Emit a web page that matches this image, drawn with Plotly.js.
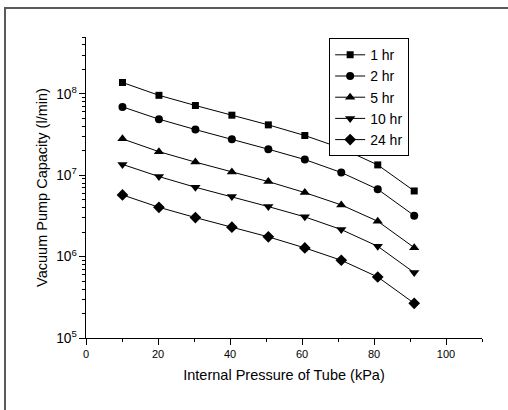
<!DOCTYPE html>
<html>
<head>
<meta charset="utf-8">
<script src="https://cdn.plot.ly/plotly-3.0.1.min.js"></script>
<style>
html,body{margin:0;padding:0;background:#fff;}
#wrap{position:relative;width:508px;height:410px;overflow:hidden;}
#chart{position:absolute;left:0;top:0;width:508px;height:410px;}
#frame{position:absolute;left:4px;top:7px;width:520px;height:420px;border-left:2px solid #5a5a5a;border-top:2px solid #5a5a5a;pointer-events:none;}
</style>
</head>
<body>
<div id="wrap"><div id="chart"></div><div id="frame"></div></div>
<script>
// Internal pressure of tube (kPa)
const pressure = [10.13, 20.26, 30.39, 40.52, 50.65, 60.78, 70.91, 81.04, 91.17];
const seriesNames = ["1 hr", "2 hr", "5 hr", "10 hr", "24 hr"];
const cap1hr  = [1.38e8, 9.6e7, 7.2e7, 5.47e7, 4.16e7, 3.08e7, 2.15e7, 1.34e7, 6.41e6];
const cap2hr  = [6.92e7, 4.89e7, 3.64e7, 2.77e7, 2.09e7, 1.56e7, 1.08e7, 6.73e6, 3.19e6];
const cap5hr  = [2.80e7, 1.95e7, 1.45e7, 1.10e7, 8.36e6, 6.12e6, 4.32e6, 2.72e6, 1.29e6];
const cap10hr = [1.36e7, 9.64e6, 7.12e6, 5.47e6, 4.12e6, 3.08e6, 2.15e6, 1.34e6, 6.36e5];
const cap24hr = [5.73e6, 4.04e6, 3.02e6, 2.30e6, 1.75e6, 1.28e6, 9.02e5, 5.62e5, 2.67e5];
const xTickVals = [0, 20, 40, 60, 80, 100];

const allY = [cap1hr, cap2hr, cap5hr, cap10hr, cap24hr];
const symbols = ["square", "circle", "triangle-up", "triangle-down", "diamond"];
const sizes = [7, 8, 9, 9, 9];

const traces = allY.map((ys, i) => ({
  x: pressure,
  y: ys,
  name: seriesNames[i],
  type: "scatter",
  mode: "lines+markers",
  line: {color: "#000", width: 1},
  marker: {symbol: symbols[i], size: sizes[i], color: "#000"}
}));

const font = {family: "Liberation Sans, Arial, sans-serif", color: "#000"};

const layout = {
  width: 508,
  height: 410,
  margin: {l: 86, r: 26, t: 37, b: 72},
  paper_bgcolor: "#fff",
  plot_bgcolor: "#fff",
  font: Object.assign({size: 11}, font),
  showlegend: true,
  legend: {
    x: 0.614, y: 0.996, xanchor: "left", yanchor: "top",
    bordercolor: "#000", borderwidth: 1, bgcolor: "#fff",
    font: Object.assign({size: 14}, font),
    tracegroupgap: 0
  },
  xaxis: {
    range: [0, 110],
    tickvals: xTickVals,
    ticks: "outside", ticklen: 6, tickwidth: 1, tickcolor: "#000",
    minor: {tickvals: [10, 30, 50, 70, 90, 110], ticks: "outside", ticklen: 3, tickcolor: "#000", showgrid: false},
    showline: true, linecolor: "#000", linewidth: 1, mirror: false,
    showgrid: false, zeroline: false,
    tickfont: Object.assign({size: 11}, font),
    title: {text: "Internal Pressure of Tube (kPa)", font: Object.assign({size: 14.5}, font), standoff: 10}
  },
  yaxis: {
    type: "log",
    range: [5, Math.log10(5e8)],
    dtick: 1,
    exponentformat: "power",
    ticks: "outside", ticklen: 6, tickwidth: 1, tickcolor: "#000",
    minor: {dtick: "D1", ticks: "outside", ticklen: 3, tickcolor: "#000", showgrid: false},
    showline: true, linecolor: "#000", linewidth: 1, mirror: false,
    showgrid: false, zeroline: false,
    tickfont: Object.assign({size: 11}, font),
    title: {text: "Vacuum Pump Capacity (l/min)", font: Object.assign({size: 14.5}, font), standoff: 5}
  }
};

Plotly.newPlot("chart", traces, layout, {displayModeBar: false, staticPlot: true});
</script>
</body>
</html>
